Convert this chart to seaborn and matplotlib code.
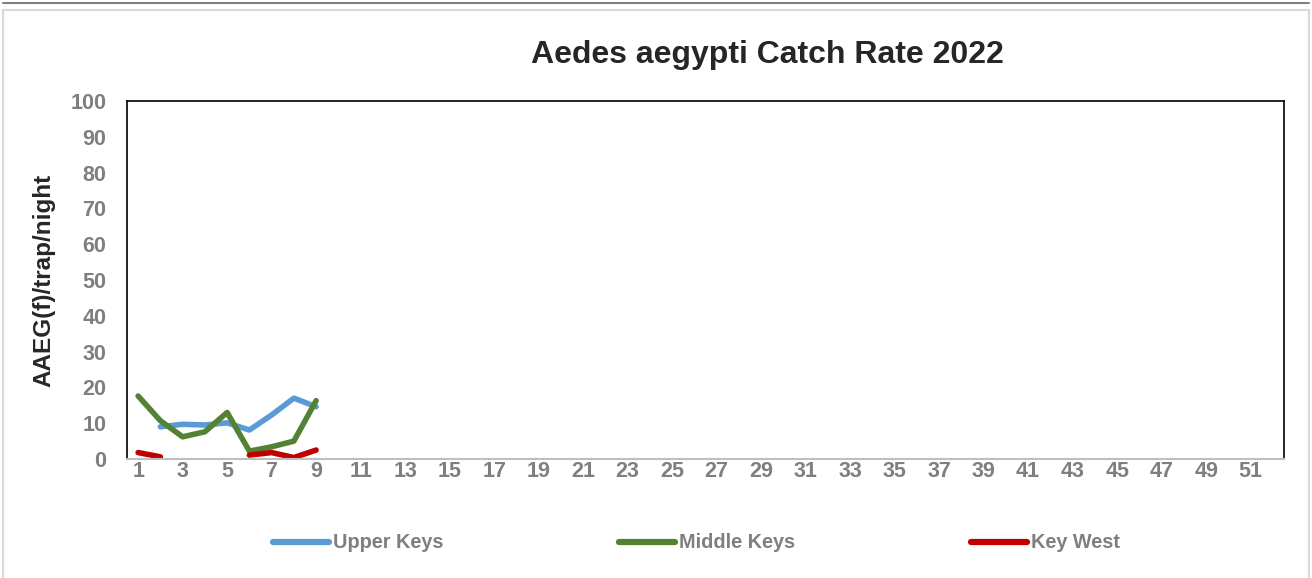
import numpy as np
import pandas as pd
import matplotlib
matplotlib.use("Agg")
import matplotlib.pyplot as plt
from matplotlib.patches import Rectangle
import seaborn as sns

# data (weeks 1..52, only first 9 reported)
weeks = np.arange(1, 53)
upper_keys = [np.nan, 9.0, 9.7, 9.5, 10.1, 8.1, 12.3, 17.0, 14.6]
middle_keys = [17.6, 10.7, 6.2, 7.6, 13.0, 2.2, 3.4, 5.0, 16.3]
key_west = [1.8, 0.6, np.nan, np.nan, np.nan, 1.1, 1.8, 0.4, 2.5]
regions = ["Upper Keys", "Middle Keys", "Key West"]
colors = ["#5B9BD5", "#548235", "#C00000"]
title = "Aedes aegypti Catch Rate 2022"
ylabel = "AAEG(f)/trap/night"

# long table, split series at gaps so lines are not bridged
frames = []
for name, vals in zip(regions, [upper_keys, middle_keys, key_west]):
    d = pd.DataFrame({"week": weeks[:len(vals)], "value": vals})
    d["region"] = name
    d["seg"] = d["value"].isna().cumsum()
    frames.append(d.dropna())
df = pd.concat(frames, ignore_index=True)

sns.set_theme(style="white")
plt.rcParams["font.family"] = ["Liberation Sans", "DejaVu Sans"]
plt.rcParams["font.weight"] = "bold"

fig = plt.figure(figsize=(13.12, 5.78), dpi=100)
ax = fig.add_axes([127 / 1312, 1 - 459 / 578, 1157 / 1312, 358 / 578])

sns.lineplot(data=df, x="week", y="value", hue="region", units="seg",
             estimator=None, palette=dict(zip(regions, colors)),
             hue_order=regions, linewidth=4, ax=ax, legend=False)

ax.set_xlim(0.5, 52.5)
ax.set_ylim(0, 100)
ax.set_xticks(np.arange(1, 52, 2))
ax.set_yticks(np.arange(0, 101, 10))
ax.tick_params(axis="both", length=0, labelsize=15.5, labelcolor="#7F7F7F")
ax.tick_params(axis="y", pad=15)
ax.tick_params(axis="x", pad=1.5)
for lab in ax.get_xticklabels() + ax.get_yticklabels():
    lab.set_fontweight("bold")
ax.set_xlabel("")
ax.set_ylabel(ylabel, fontsize=17.5, fontweight="bold", color="#262626")
ax.yaxis.set_label_coords(-0.0622, 0.5)

for side in ["left", "top", "right"]:
    ax.spines[side].set_color("black")
    ax.spines[side].set_linewidth(1.2)
ax.spines["bottom"].set_color("#BFBFBF")
ax.spines["bottom"].set_linewidth(1.5)

fig.text(767 / 1312, 1 - 55 / 578, title, ha="center", va="center",
         fontsize=23, fontweight="bold", color="#262626")

handles = [plt.Line2D([], [], color=c, linewidth=4.5, solid_capstyle="round") for c in colors]
leg = fig.legend(handles, regions, loc="center", ncol=3,
                 bbox_to_anchor=(696.5 / 1312, 1 - 543 / 578), frameon=False,
                 fontsize=14.3, handlelength=2.8, handletextpad=0.2,
                 columnspacing=8.88)
for t in leg.get_texts():
    t.set_color("#7F7F7F")
    t.set_fontweight("bold")

# outer frames
fig.patches.append(Rectangle((3 / 1312, -0.01), 1306 / 1312, (568 / 578) + 0.01,
                             transform=fig.transFigure, fill=False,
                             edgecolor="#D9D9D9", linewidth=1.5))
fig.add_artist(plt.Line2D([3 / 1312, 1309 / 1312], [1 - 3 / 578, 1 - 3 / 578],
                          transform=fig.transFigure, color="#7F7F7F", linewidth=1.5))

fig.savefig("out.png", dpi=100)
